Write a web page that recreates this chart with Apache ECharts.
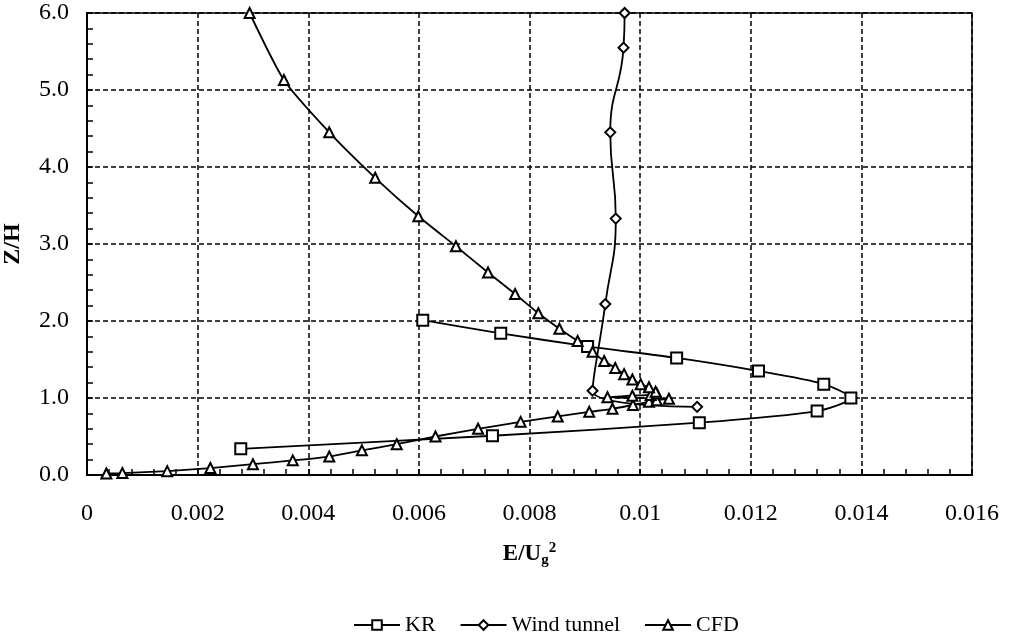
<!DOCTYPE html>
<html>
<head>
<meta charset="utf-8">
<script src="https://cdn.jsdelivr.net/npm/echarts@6/dist/echarts.min.js"></script>
<style>
  html, body { margin: 0; padding: 0; background: #fff; }
  #echart { width: 1011px; height: 635px; }
</style>
</head>
<body>
<div id="echart"></div>
<script>
let echart = echarts.init(document.getElementById('echart'))

// KR
let krX = [0.00607, 0.00748, 0.00905, 0.01066, 0.01214, 0.01332, 0.01381, 0.01320, 0.01107, 0.00733, 0.00278]
let krY = [2.01, 1.84, 1.67, 1.52, 1.35, 1.18, 1.00, 0.83, 0.68, 0.51, 0.34]

// Wind tunnel
let wtX = [0.00972, 0.00970, 0.00946, 0.00956, 0.00937, 0.00914, 0.01103]
let wtY = [6.0, 5.55, 4.45, 3.33, 2.22, 1.095, 0.885]

// CFD
let cfdX = [0.00035, 0.00064, 0.00145, 0.00223, 0.00300, 0.00372, 0.00438, 0.00497, 0.00560, 0.00630,
    0.00707, 0.00784, 0.00851, 0.00908, 0.00950, 0.00987, 0.01016, 0.01030, 0.01052, 0.00941,
    0.00986, 0.01019, 0.01030, 0.01028, 0.01016, 0.01001, 0.00986, 0.00971, 0.00955, 0.00935,
    0.00914, 0.00887, 0.00854, 0.00816, 0.00774, 0.00725, 0.00667, 0.00599, 0.00521, 0.00438,
    0.00356, 0.00294]
let cfdY = [0.02, 0.025, 0.05, 0.09, 0.14, 0.19, 0.24, 0.32, 0.40, 0.50,
    0.60, 0.69, 0.76, 0.82, 0.86, 0.91, 0.95, 0.97, 0.99, 1.01,
    1.03, 1.04, 1.06, 1.08, 1.14, 1.18, 1.24, 1.31, 1.39, 1.48,
    1.60, 1.74, 1.90, 2.10, 2.35, 2.63, 2.97, 3.36, 3.86, 4.45,
    5.13, 6.0]

function pairs(xs, ys) {
    return xs.map((x, i) => [x, ys[i]])
}

let font = '"Liberation Serif", "Times New Roman", serif'
let gridLine = { show: true, lineStyle: { color: '#000', type: [5, 3], width: 1.5 } }

let option = {
    textStyle: { fontFamily: font, color: '#000' },
    animation: false,
    grid: {
        left: 87, right: 39, top: 13, bottom: 160,
        outerBoundsMode: 'none',
        containLabel: false,
        show: true, borderColor: '#000', borderWidth: 1.5
    },
    legend: {
        top: 609,
        left: 348,
        itemWidth: 46,
        itemHeight: 12,
        itemGap: 24,
        textStyle: { fontFamily: font, fontSize: 22, color: '#000' },
        data: ['KR', 'Wind tunnel', 'CFD']
    },
    xAxis: {
        type: 'value',
        min: 0, max: 0.016, interval: 0.002,
        name: '{b|E/U}{sub|g}{sup|2}',
        nameLocation: 'middle',
        nameGap: 66,
        nameTextStyle: {
            rich: {
                b: { fontFamily: font, fontSize: 23, fontWeight: 'bold', color: '#000' },
                sub: { fontFamily: font, fontSize: 15, fontWeight: 'bold', color: '#000', verticalAlign: 'bottom', padding: [12, 0, 0, 0] },
                sup: { fontFamily: font, fontSize: 15, fontWeight: 'bold', color: '#000', verticalAlign: 'top', padding: [0, 0, 12, 0] }
            }
        },
        axisLine: { lineStyle: { color: '#000', width: 2 } },
        axisTick: { show: true, inside: true, length: 6, lineStyle: { color: '#000', width: 1.5 } },
        minorTick: { show: true, splitNumber: 5, length: 6, lineStyle: { color: '#000', width: 1.5 } },
        axisLabel: {
            fontFamily: font, fontSize: 24, color: '#000', margin: 27,
            formatter: v => v === 0 ? '0' : String(+v.toFixed(3))
        },
        splitLine: gridLine
    },
    yAxis: {
        type: 'value',
        min: 0, max: 6, interval: 1,
        name: 'Z/H',
        nameLocation: 'middle',
        nameGap: 62,
        nameTextStyle: { fontFamily: font, fontSize: 24, fontWeight: 'bold', color: '#000' },
        axisLine: { show: true, lineStyle: { color: '#000', width: 2 } },
        axisTick: { show: true, inside: true, length: 6, lineStyle: { color: '#000', width: 1.5 } },
        minorTick: { show: true, splitNumber: 5, length: 6, lineStyle: { color: '#000', width: 1.5 } },
        axisLabel: {
            fontFamily: font, fontSize: 24, color: '#000', margin: 18,
            formatter: v => v.toFixed(1)
        },
        splitLine: gridLine
    },
    series: [
        {
            name: 'KR', type: 'line', smooth: 0.25,
            data: pairs(krX, krY),
            symbol: 'emptyRect', symbolSize: 11,
            lineStyle: { color: '#000', width: 1.8 },
            itemStyle: { color: '#000', borderColor: '#000', borderWidth: 1.8 }
        },
        {
            name: 'Wind tunnel', type: 'line', smooth: 0.5,
            data: pairs(wtX, wtY),
            symbol: 'emptyDiamond', symbolSize: 10,
            lineStyle: { color: '#000', width: 1.8 },
            itemStyle: { color: '#000', borderColor: '#000', borderWidth: 1.8 }
        },
        {
            name: 'CFD', type: 'line', smooth: 0.2,
            data: pairs(cfdX, cfdY),
            symbol: 'emptyTriangle', symbolSize: 10,
            lineStyle: { color: '#000', width: 1.8 },
            itemStyle: { color: '#000', borderColor: '#000', borderWidth: 1.6 }
        }
    ]
};

echart.setOption(option);
</script>
</body>
</html>
